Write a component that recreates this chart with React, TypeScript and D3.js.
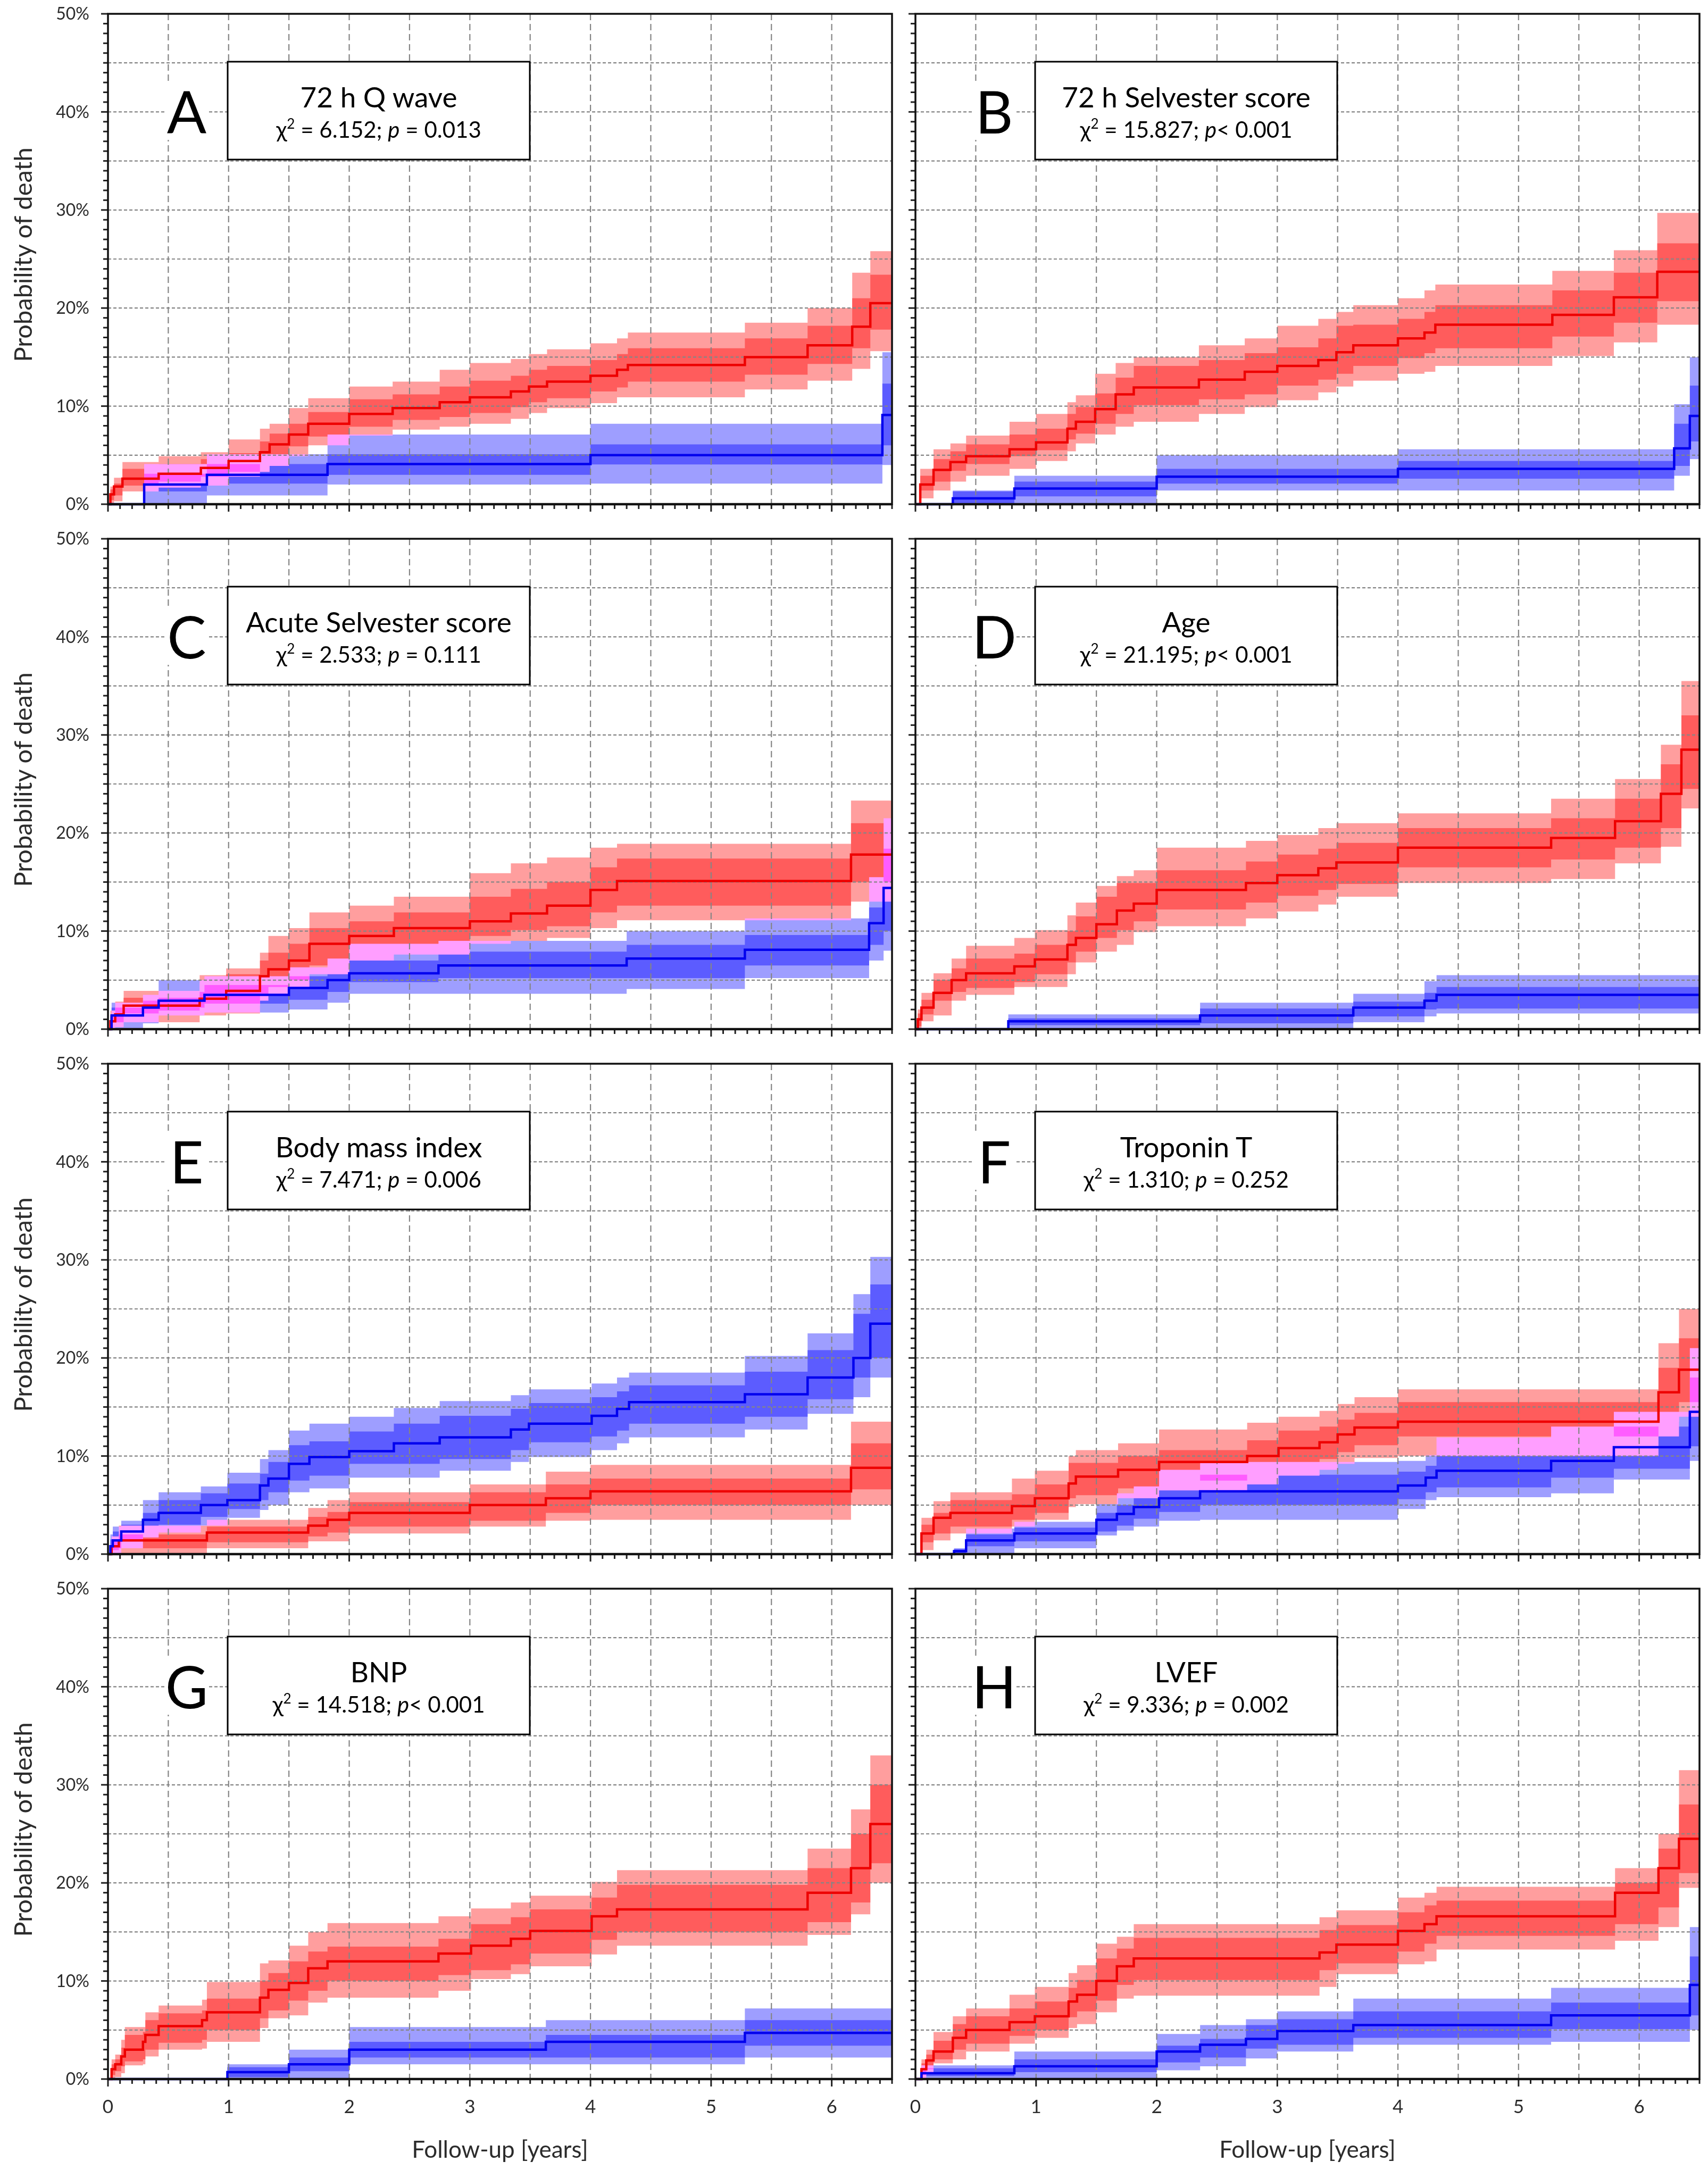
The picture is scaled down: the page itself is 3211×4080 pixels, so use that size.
import * as d3 from "d3";

// each row: [time (years), estimate %, outer low, inner low, inner high, outer high]
type Row = number[];

const redA: Row[] = [
  [0, 0, 0, 0, 0, 0],
  [0.02, 1.0, 0.1, 0.4, 1.5, 1.8],
  [0.05, 1.8, 0.3, 0.9, 2.1, 2.7],
  [0.12, 2.6, 1.3, 1.9, 3.6, 4.3],
  [0.42, 3.1, 1.7, 2.3, 4.1, 4.9],
  [0.77, 3.7, 1.9, 2.8, 4.6, 5.3],
  [1.0, 4.4, 2.8, 3.3, 5.2, 6.6],
  [1.26, 5.3, 3.3, 4.3, 6.4, 7.7],
  [1.34, 6.1, 3.9, 4.9, 7.2, 8.2],
  [1.5, 7.1, 4.9, 5.9, 8.2, 9.8],
  [1.66, 8.2, 6.0, 6.9, 9.4, 10.8],
  [2.0, 9.2, 7.0, 7.9, 10.7, 12.0],
  [2.36, 9.8, 7.6, 8.6, 11.2, 12.5],
  [2.75, 10.4, 7.9, 8.9, 12.0, 13.7],
  [3.0, 10.9, 8.2, 9.3, 12.6, 14.4],
  [3.34, 11.5, 8.7, 9.9, 13.1, 14.8],
  [3.49, 12.0, 9.3, 10.4, 13.7, 15.3],
  [3.64, 12.5, 9.8, 10.8, 14.1, 15.8],
  [4.0, 13.1, 10.3, 11.5, 14.7, 16.4],
  [4.22, 13.7, 10.9, 11.9, 15.3, 16.9],
  [4.31, 14.2, 10.9, 12.5, 15.9, 17.5],
  [5.28, 15.0, 11.7, 13.2, 16.9, 18.5],
  [5.8, 16.2, 12.6, 14.3, 18.2, 20.0],
  [6.17, 18.1, 13.8, 15.9, 21.0, 23.6],
  [6.32, 20.5, 15.6, 17.8, 23.4, 25.8],
];
const blueA: Row[] = [
  [0, 0, 0, 0, 0, 0],
  [0.3, 2.0, 0, 1.3, 3.1, 4.1],
  [0.82, 3.0, 0.9, 2.1, 4.1, 5.1],
  [1.82, 4.1, 2.0, 3.0, 5.1, 7.1],
  [4.0, 5.0, 2.1, 4.05, 6.1, 8.2],
  [6.42, 9.1, 4.0, 6.0, 12.3, 15.5],
];

const redB: Row[] = [
  [0, 0, 0, 0, 0, 0],
  [0.04, 2.0, 0.6, 1.4, 2.9, 3.6],
  [0.15, 3.5, 1.4, 2.3, 4.6, 5.6],
  [0.29, 4.3, 2.3, 3.4, 5.4, 6.2],
  [0.42, 4.9, 2.9, 4.1, 6.1, 7.0],
  [0.78, 5.6, 3.6, 4.9, 7.1, 8.4],
  [1.0, 6.3, 4.4, 5.5, 7.7, 9.2],
  [1.26, 7.7, 5.4, 6.6, 9.2, 10.4],
  [1.33, 8.4, 6.2, 7.2, 9.9, 11.1],
  [1.49, 9.7, 7.1, 8.2, 11.3, 13.3],
  [1.66, 11.2, 7.9, 9.2, 12.9, 14.4],
  [1.81, 11.9, 8.4, 10.1, 14.1, 15.0],
  [2.35, 12.7, 9.2, 10.7, 14.7, 16.2],
  [2.73, 13.5, 9.9, 11.2, 15.4, 16.9],
  [3.0, 14.1, 10.6, 12.1, 16.0, 18.2],
  [3.34, 14.7, 11.4, 12.7, 16.9, 18.9],
  [3.49, 15.5, 12.0, 13.3, 18.2, 19.6],
  [3.63, 16.2, 12.6, 14.1, 18.3, 20.3],
  [4.0, 16.9, 13.3, 14.9, 18.9, 21.0],
  [4.22, 17.5, 13.5, 15.4, 19.6, 21.8],
  [4.31, 18.3, 14.1, 15.9, 20.3, 22.4],
  [5.28, 19.3, 15.1, 17.1, 21.8, 23.8],
  [5.79, 21.1, 16.5, 18.5, 23.6, 25.9],
  [6.15, 23.7, 18.3, 20.7, 26.6, 29.7],
];
const blueB: Row[] = [
  [0, 0, 0, 0, 0, 0],
  [0.31, 0.6, 0, 0, 1.3, 1.4],
  [0.82, 1.6, 0, 0.8, 2.3, 2.9],
  [2.0, 2.8, 1.4, 2.1, 3.6, 5.0],
  [4.0, 3.6, 1.4, 2.6, 4.4, 5.6],
  [6.29, 5.7, 2.9, 3.9, 8.2, 10.2],
  [6.42, 9.0, 4.6, 6.4, 12.1, 15.0],
];

const redC: Row[] = [
  [0, 0, 0, 0, 0, 0],
  [0.02, 0.8, 0, 0.2, 1.4, 1.9],
  [0.06, 1.5, 0.2, 0.7, 2.2, 2.8],
  [0.13, 2.4, 0.7, 1.6, 3.2, 3.9],
  [0.76, 3.1, 1.4, 2.2, 4.7, 5.5],
  [0.98, 3.9, 1.6, 2.4, 5.6, 6.2],
  [1.26, 5.4, 2.9, 3.4, 7.0, 7.8],
  [1.33, 6.1, 3.4, 4.3, 7.8, 9.5],
  [1.5, 7.0, 4.2, 5.0, 8.7, 10.3],
  [1.67, 8.7, 5.6, 6.5, 10.3, 11.9],
  [2.0, 9.5, 7.0, 7.8, 11.0, 12.6],
  [2.37, 10.3, 7.6, 8.6, 11.9, 13.5],
  [3.0, 11.0, 8.7, 9.5, 13.5, 15.9],
  [3.34, 11.8, 9.0, 10.1, 14.3, 16.9],
  [3.64, 12.6, 9.3, 10.5, 15.0, 17.5],
  [4.0, 14.2, 10.3, 11.9, 16.5, 18.5],
  [4.22, 15.1, 11.1, 12.6, 17.4, 18.9],
  [6.16, 17.8, 13.0, 15.0, 21.0, 23.3],
];
const blueC: Row[] = [
  [0, 0, 0, 0, 0, 0],
  [0.03, 1.4, 0, 0.7, 2.2, 2.7],
  [0.29, 2.2, 0.6, 1.3, 2.9, 3.5],
  [0.42, 2.9, 1.4, 1.9, 3.8, 5.0],
  [0.8, 3.5, 1.7, 2.6, 4.5, 5.4],
  [1.5, 4.2, 2.0, 3.0, 5.4, 6.3],
  [1.82, 5.0, 2.7, 3.8, 6.3, 7.2],
  [2.0, 5.7, 3.6, 4.8, 7.0, 8.7],
  [2.74, 6.5, 3.6, 5.2, 7.9, 9.0],
  [4.3, 7.2, 4.1, 5.2, 8.6, 10.0],
  [5.28, 8.1, 5.2, 6.5, 9.6, 11.3],
  [6.31, 10.8, 7.0, 8.6, 12.4, 15.5],
  [6.43, 14.4, 8.0, 10.0, 18.4, 21.5],
];

const redD: Row[] = [
  [0, 0, 0, 0, 0, 0],
  [0.02, 1.0, 0, 0.3, 1.6, 2.0],
  [0.05, 2.2, 0.8, 1.5, 3.0, 3.7],
  [0.15, 3.7, 1.4, 2.9, 5.0, 5.7],
  [0.3, 5.0, 2.9, 3.8, 6.2, 7.2],
  [0.42, 5.7, 3.5, 4.2, 7.2, 8.5],
  [0.82, 6.4, 4.3, 4.8, 7.7, 9.3],
  [0.99, 7.1, 4.3, 5.6, 8.6, 10.1],
  [1.26, 8.6, 5.6, 6.8, 10.0, 11.6],
  [1.33, 9.3, 6.8, 7.9, 11.5, 12.9],
  [1.5, 10.7, 7.9, 9.3, 13.5, 14.6],
  [1.67, 12.1, 8.6, 10.1, 14.9, 15.6],
  [1.81, 12.8, 9.9, 11.0, 14.9, 16.2],
  [2.0, 14.2, 10.5, 12.2, 16.2, 18.5],
  [2.74, 14.9, 11.3, 12.9, 17.1, 19.2],
  [3.0, 15.7, 12.0, 13.6, 17.8, 19.8],
  [3.34, 16.4, 12.7, 14.2, 18.4, 20.5],
  [3.49, 17.0, 13.5, 14.8, 19.0, 21.0],
  [4.0, 18.5, 14.9, 16.5, 20.5, 22.0],
  [5.27, 19.5, 15.3, 17.3, 21.5, 23.5],
  [5.8, 21.2, 16.9, 18.5, 23.5, 25.5],
  [6.18, 24.0, 18.6, 20.5, 27.0, 29.0],
  [6.35, 28.5, 22.5, 24.5, 32.0, 35.5],
];
const blueD: Row[] = [
  [0, 0, 0, 0, 0, 0],
  [0.77, 0.8, 0, 0.4, 1.1, 1.5],
  [2.36, 1.4, 0, 0.6, 2.1, 2.7],
  [3.63, 2.2, 0.7, 1.3, 2.8, 3.6],
  [4.22, 2.9, 1.3, 2.0, 3.7, 4.9],
  [4.32, 3.5, 1.6, 2.1, 4.3, 5.5],
];

const redE: Row[] = [
  [0, 0, 0, 0, 0, 0],
  [0.03, 0.8, 0, 0.3, 1.3, 1.8],
  [0.09, 1.4, 0, 0.6, 2.0, 2.9],
  [0.82, 2.2, 0.6, 1.2, 2.8, 3.5],
  [1.66, 2.9, 1.3, 1.8, 3.8, 4.7],
  [1.82, 3.5, 1.3, 2.2, 4.3, 5.5],
  [2.0, 4.2, 2.1, 2.8, 5.3, 6.3],
  [3.0, 5.0, 2.8, 3.4, 6.3, 7.1],
  [3.63, 5.7, 3.4, 4.2, 7.1, 8.4],
  [4.0, 6.4, 3.5, 5.0, 7.7, 9.1],
  [6.16, 8.8, 5.0, 6.6, 11.3, 13.5],
];
const blueE: Row[] = [
  [0, 0, 0, 0, 0, 0],
  [0.02, 0.8, 0, 0.2, 1.5, 2.0],
  [0.04, 1.4, 0, 0.4, 2.3, 2.8],
  [0.11, 2.3, 0.6, 1.3, 3.0, 3.4],
  [0.29, 3.5, 1.7, 2.5, 4.2, 5.5],
  [0.42, 4.2, 2.2, 3.0, 5.5, 6.3],
  [0.77, 5.0, 2.9, 3.8, 6.2, 6.9],
  [0.99, 5.5, 3.7, 4.6, 7.2, 8.3],
  [1.26, 7.0, 4.5, 5.5, 8.2, 9.7],
  [1.33, 7.7, 5.0, 6.3, 9.4, 10.6],
  [1.5, 9.2, 6.3, 7.5, 11.1, 12.6],
  [1.67, 9.9, 6.7, 8.0, 11.5, 13.3],
  [2.0, 10.5, 7.8, 9.2, 12.5, 14.0],
  [2.37, 11.3, 7.8, 9.2, 13.3, 14.9],
  [2.75, 11.9, 8.5, 9.7, 14.1, 15.6],
  [3.34, 12.7, 9.4, 10.6, 14.8, 16.2],
  [3.49, 13.3, 9.9, 11.4, 15.4, 16.8],
  [4.01, 14.1, 10.6, 12.0, 16.0, 17.4],
  [4.22, 14.8, 11.3, 12.6, 16.6, 18.0],
  [4.32, 15.5, 11.9, 13.3, 17.2, 18.5],
  [5.28, 16.3, 12.7, 14.0, 18.6, 20.2],
  [5.8, 18.0, 14.3, 15.8, 20.8, 22.5],
  [6.18, 20.0, 16.0, 18.0, 24.5, 26.5],
  [6.32, 23.5, 18.0, 20.0, 27.5, 30.3],
];

const redF: Row[] = [
  [0, 0, 0, 0, 0, 0],
  [0.05, 2.1, 0.4, 1.2, 3.0, 3.7],
  [0.15, 3.7, 1.4, 2.1, 4.2, 5.4],
  [0.29, 4.2, 2.1, 2.8, 5.5, 6.3],
  [0.8, 4.9, 2.8, 3.5, 6.1, 7.7],
  [0.99, 5.7, 3.5, 4.2, 7.1, 8.5],
  [1.27, 7.2, 4.8, 5.7, 9.3, 10.0],
  [1.33, 7.9, 5.1, 6.0, 9.3, 10.6],
  [1.68, 8.6, 5.7, 6.7, 10.0, 11.3],
  [2.02, 9.4, 6.5, 7.5, 10.6, 12.7],
  [2.75, 10.0, 7.1, 8.2, 11.6, 13.4],
  [3.01, 10.8, 8.0, 9.0, 12.6, 14.0],
  [3.35, 11.4, 8.6, 9.7, 13.0, 14.6],
  [3.5, 12.2, 9.2, 10.4, 13.7, 15.3],
  [3.64, 12.9, 9.8, 11.1, 14.4, 16.0],
  [4.0, 13.5, 10.0, 12.0, 15.5, 16.8],
  [6.16, 16.5, 12.0, 13.5, 19.0, 21.5],
  [6.33, 18.8, 14.0, 15.5, 22.0, 25.0],
];
const blueF: Row[] = [
  [0, 0, 0, 0, 0, 0],
  [0.32, 0.3, 0, 0, 0.5, 0.6],
  [0.42, 1.4, 0, 0.8, 2.0, 2.6],
  [0.82, 2.1, 0.6, 1.3, 2.7, 3.3],
  [1.5, 3.5, 1.9, 2.3, 4.2, 5.1],
  [1.67, 4.1, 2.4, 2.9, 5.0, 6.2],
  [1.81, 4.8, 2.8, 3.6, 6.0, 6.9],
  [2.02, 5.7, 3.4, 4.3, 7.3, 8.6],
  [2.36, 6.4, 3.5, 5.0, 8.1, 9.4],
  [4.0, 7.0, 4.6, 5.6, 8.4, 9.5],
  [4.23, 7.8, 5.5, 6.3, 9.0, 10.1],
  [4.32, 8.5, 5.8, 6.8, 10.0, 11.9],
  [5.27, 9.5, 6.2, 7.8, 11.5, 13.0],
  [5.79, 10.9, 7.6, 8.7, 13.0, 14.5],
  [6.42, 14.5, 9.5, 11.0, 18.0, 21.0],
];

const redG: Row[] = [
  [0, 0, 0, 0, 0, 0],
  [0.03, 1.0, 0, 0.4, 1.5, 2.0],
  [0.06, 1.5, 0.2, 0.8, 2.0, 2.5],
  [0.11, 2.3, 0.6, 1.3, 3.2, 4.0],
  [0.14, 3.0, 1.4, 1.8, 4.5, 5.3],
  [0.29, 3.8, 1.5, 2.0, 4.8, 5.3],
  [0.31, 4.5, 2.3, 3.0, 6.0, 6.8],
  [0.42, 5.4, 3.0, 3.7, 6.7, 7.5],
  [0.78, 6.0, 3.1, 4.0, 7.0, 8.1],
  [0.82, 6.8, 3.8, 5.0, 8.2, 9.9],
  [1.26, 8.3, 5.2, 6.2, 10.0, 11.8],
  [1.33, 9.1, 6.2, 7.0, 10.8, 12.1],
  [1.5, 9.8, 6.5, 8.0, 12.0, 13.6],
  [1.66, 11.3, 7.8, 9.0, 13.0, 15.0],
  [1.82, 12.0, 8.3, 10.0, 13.5, 15.9],
  [2.74, 12.8, 9.0, 10.6, 14.3, 16.6],
  [3.01, 13.6, 10.2, 11.1, 15.8, 17.4],
  [3.34, 14.3, 10.7, 11.7, 16.5, 18.0],
  [3.5, 15.1, 11.5, 12.8, 17.3, 18.7],
  [4.01, 16.6, 12.7, 14.2, 18.5, 20.1],
  [4.22, 17.3, 13.6, 15.0, 19.8, 21.3],
  [5.8, 19.0, 14.7, 16.0, 21.5, 23.5],
  [6.16, 21.5, 16.8, 18.0, 25.0, 27.5],
  [6.32, 26.0, 20.0, 22.0, 30.0, 33.0],
];
const blueG: Row[] = [
  [0, 0, 0, 0, 0, 0],
  [0.99, 0.7, 0, 0.2, 1.2, 1.5],
  [1.5, 1.5, 0, 0.8, 2.2, 3.0],
  [2.0, 3.0, 1.5, 2.2, 3.8, 5.3],
  [3.63, 3.8, 1.5, 2.2, 4.5, 6.0],
  [5.28, 4.7, 2.2, 3.4, 6.0, 7.2],
];

const redH: Row[] = [
  [0, 0, 0, 0, 0, 0],
  [0.05, 1.0, 0, 0.4, 1.6, 2.0],
  [0.09, 1.9, 0.5, 1.0, 2.5, 3.0],
  [0.15, 2.8, 1.6, 2.0, 3.9, 4.8],
  [0.31, 4.2, 2.0, 3.0, 5.6, 6.4],
  [0.42, 5.0, 2.8, 3.6, 6.4, 7.2],
  [0.78, 5.8, 3.6, 4.4, 7.2, 8.6],
  [0.99, 6.4, 4.2, 5.0, 7.9, 9.4],
  [1.27, 7.9, 5.2, 6.3, 9.3, 10.8],
  [1.34, 8.6, 5.6, 6.9, 10.1, 11.6],
  [1.5, 10.0, 6.8, 8.0, 12.3, 13.8],
  [1.67, 11.5, 8.2, 9.6, 13.3, 14.5],
  [1.81, 12.3, 8.5, 10.1, 14.4, 15.8],
  [3.35, 12.9, 9.4, 11.1, 15.2, 16.5],
  [3.49, 13.7, 10.7, 11.8, 15.7, 17.2],
  [4.0, 15.1, 11.7, 13.0, 17.0, 18.5],
  [4.22, 15.8, 12.0, 13.8, 17.7, 19.0],
  [4.32, 16.6, 13.2, 14.6, 18.2, 19.6],
  [5.8, 19.0, 14.1, 15.8, 20.0, 21.5],
  [6.16, 21.5, 15.5, 17.5, 23.5, 25.0],
  [6.33, 24.5, 19.5, 21.0, 28.0, 31.5],
];
const blueH: Row[] = [
  [0, 0, 0, 0, 0, 0],
  [0.05, 0.6, 0, 0.3, 1.1, 1.4],
  [0.82, 1.3, 0, 0.7, 2.0, 2.8],
  [2.0, 2.8, 0.9, 1.7, 3.4, 4.6],
  [2.36, 3.5, 1.3, 2.2, 4.1, 5.5],
  [2.74, 4.1, 2.1, 3.1, 5.5, 6.1],
  [3.0, 4.9, 2.8, 3.5, 6.1, 6.9],
  [3.63, 5.5, 3.5, 4.2, 6.9, 8.2],
  [5.27, 6.5, 3.8, 5.1, 7.8, 9.3],
  [6.42, 9.6, 5.0, 6.5, 12.5, 15.5],
];

const letters = ["A", "B", "C", "D", "E", "F", "G", "H"];
const titles = [
  "72 h Q wave",
  "72 h Selvester score",
  "Acute Selvester score",
  "Age",
  "Body mass index",
  "Troponin T",
  "BNP",
  "LVEF",
];
const chiValues = ["6.152", "15.827", "2.533", "21.195", "7.471", "1.310", "14.518", "9.336"];
const pValues = [" = 0.013", "< 0.001", " = 0.111", "< 0.001", " = 0.006", " = 0.252", "< 0.001", " = 0.002"];
const redSeries = [redA, redB, redC, redD, redE, redF, redG, redH];
const blueSeries = [blueA, blueB, blueC, blueD, blueE, blueF, blueG, blueH];

const yTickValues = [0, 10, 20, 30, 40, 50];
const xTickValues = [0, 1, 2, 3, 4, 5, 6];

const W = 3211;
const H = 4080;
const colX = [203, 1721];
const rowY = [26, 1013, 2000, 2987];
const PW = 1474;
const PH = 922;
const T_MAX = 6.5;
const FONT = "Lato, 'Open Sans', 'DejaVu Sans', sans-serif";
const TEXT = "#2b2b2b";

const colors = {
  red: { line: "#ee0000", inner: "#ff5c5c", outer: "#ff9e9e" },
  blue: { line: "#0000ee", inner: "#5c5cff", outer: "#9e9eff" },
};

function extend(rows: Row[]): Row[] {
  const last = rows[rows.length - 1];
  return [...rows, [T_MAX, ...last.slice(1)]];
}

function Panel({ idx }: { idx: number }) {
  const col = idx % 2;
  const row = Math.floor(idx / 2);
  const x0 = colX[col];
  const y0 = rowY[row];

  const x = d3.scaleLinear().domain([0, T_MAX]).range([0, PW]);
  const y = d3.scaleLinear().domain([0, 50]).range([PH, 0]);

  const band = (lo: number, hi: number) =>
    d3
      .area<Row>()
      .curve(d3.curveStepAfter)
      .x((d) => x(d[0]))
      .y0((d) => y(d[lo]))
      .y1((d) => y(d[hi]));
  const outer = band(2, 5);
  const inner = band(3, 4);
  const line = d3
    .line<Row>()
    .curve(d3.curveStepAfter)
    .x((d) => x(d[0]))
    .y((d) => y(d[1]));

  const red = extend(redSeries[idx]);
  const blue = extend(blueSeries[idx]);

  const hGrid = d3.range(5, 50, 5);
  const vGrid = d3.range(0.5, 6.01, 0.5);
  const yMinor = d3.range(0, 51, 1);
  const xMinor = d3.range(0, 66, 1).map((i) => i / 10);

  const boxX = 225;
  const boxY = 90;
  const boxW = 568;
  const boxH = 184;
  const letterX = 148;

  return (
    <g transform={`translate(${x0},${y0})`}>
      <g style={{ isolation: "isolate" }}>
        <g style={{ mixBlendMode: "lighten" }}>
          <path d={outer(blue) ?? ""} fill={colors.blue.outer} />
          <path d={inner(blue) ?? ""} fill={colors.blue.inner} />
        </g>
        <g style={{ mixBlendMode: "lighten" }}>
          <path d={outer(red) ?? ""} fill={colors.red.outer} />
          <path d={inner(red) ?? ""} fill={colors.red.inner} />
        </g>
      </g>

      {/* grid */}
      {hGrid.map((v) => (
        <line key={`h${v}`} x1={0} x2={PW} y1={y(v)} y2={y(v)} stroke="#858585" strokeWidth={2.2} strokeDasharray="6 4" />
      ))}
      {vGrid.map((v) => (
        <line key={`v${v}`} x1={x(v)} x2={x(v)} y1={0} y2={PH} stroke="#858585" strokeWidth={2.2} strokeDasharray="12 7" />
      ))}

      <path d={line(red) ?? ""} fill="none" stroke={colors.red.line} strokeWidth={4.5} />
      <path d={line(blue) ?? ""} fill="none" stroke={colors.blue.line} strokeWidth={4.5} />

      {/* ticks */}
      {yMinor.map((v) => (
        <line key={`yt${v}`} x1={v % 10 === 0 ? -13 : -9} x2={0} y1={y(v)} y2={y(v)} stroke="#222" strokeWidth={3} />
      ))}
      {xMinor.map((v, i) => (
        <line key={`xt${i}`} x1={x(v)} x2={x(v)} y1={PH} y2={PH + (i % 10 === 0 ? 14 : 9)} stroke="#222" strokeWidth={3} />
      ))}

      <rect x={0} y={0} width={PW} height={PH} fill="none" stroke="#111" strokeWidth={3.5} />
      <line x1={0} x2={PW} y1={PH} y2={PH} stroke="#111" strokeWidth={4.5} />

      {col === 0 &&
        yTickValues.map((v) => (
          <text key={`yl${v}`} x={-35} y={y(v)} dy="0.35em" textAnchor="end" fontSize={32} fill={TEXT}>
            {`${v}%`}
          </text>
        ))}
      {col === 0 && (
        <text transform={`translate(${60 - x0},${PH / 2 - 8}) rotate(-90)`} textAnchor="middle" fontSize={47} fill={TEXT}>
          Probability of death
        </text>
      )}
      {row === 3 &&
        xTickValues.map((v) => (
          <text key={`xl${v}`} x={x(v)} y={PH + 64} textAnchor="middle" fontSize={35} fill={TEXT}>
            {v}
          </text>
        ))}
      {row === 3 && (
        <text x={PW / 2} y={PH + 148} textAnchor="middle" fontSize={44} fill={TEXT}>
          Follow-up [years]
        </text>
      )}

      {/* letter + statistics box */}
      <rect x={letterX - 42} y={133} width={84} height={104} fill="#fff" />
      <text x={letterX} y={225} textAnchor="middle" fontSize={110} fill="#000">
        {letters[idx]}
      </text>
      <rect x={boxX} y={boxY} width={boxW} height={boxH} fill="#fff" stroke="#000" strokeWidth={3} />
      <text x={boxX + boxW / 2} y={176} textAnchor="middle" fontSize={53} fill="#000">
        {titles[idx]}
      </text>
      <text x={boxX + boxW / 2} y={233} textAnchor="middle" fontSize={42} fill="#000">
        χ
        <tspan fontSize={26} dy={-17}>
          2
        </tspan>
        <tspan dy={17}>{` = ${chiValues[idx]}; `}</tspan>
        <tspan fontStyle="italic">p</tspan>
        {pValues[idx]}
      </text>
    </g>
  );
}

export default function App() {
  return (
    <svg
      width={W}
      height={H}
      viewBox={`0 0 ${W} ${H}`}
      style={{ position: "absolute", left: 0, top: 0, display: "block", background: "#fff" }}
      fontFamily={FONT}
    >
      <rect x={0} y={0} width={W} height={H} fill="#fff" />
      {letters.map((_, i) => (
        <Panel key={i} idx={i} />
      ))}
    </svg>
  );
}
